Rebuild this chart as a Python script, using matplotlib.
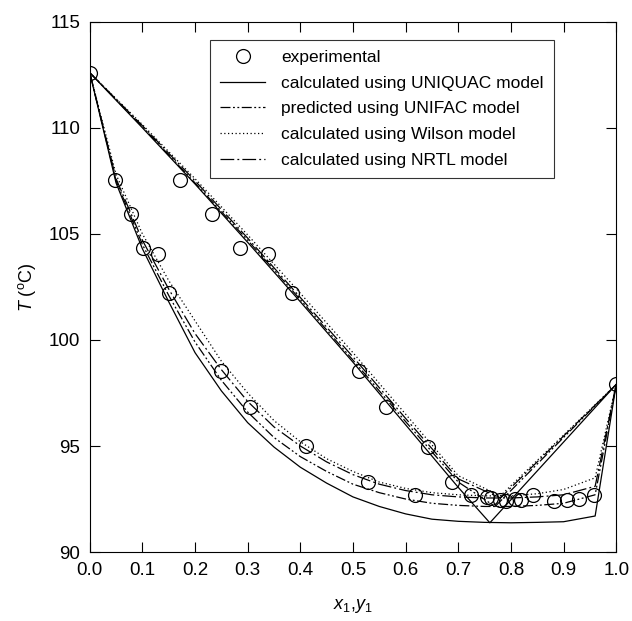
import matplotlib
matplotlib.use("Agg")
import matplotlib.pyplot as plt

plt.rcParams['font.family'] = ['Liberation Sans', 'DejaVu Sans']
plt.rcParams['mathtext.fontset'] = 'custom'
plt.rcParams['mathtext.rm'] = 'Liberation Sans'
plt.rcParams['mathtext.it'] = 'Liberation Sans:italic'

# experimental points (x1 and y1 together)
exp_x = [0.0, 0.048, 0.171, 0.079, 0.232, 0.102, 0.130, 0.286, 0.339, 0.151, 0.384,
         0.250, 0.511, 0.305, 0.562, 0.410, 0.643, 0.528, 0.688, 0.617, 0.724,
         0.754, 0.762, 0.779, 0.791, 0.808, 0.820, 0.842, 0.882, 0.906, 0.930, 0.958, 1.0]
exp_T = [112.6, 107.55, 107.55, 105.96, 105.93, 104.32, 104.04, 104.34, 104.04, 102.23, 102.23,
         98.52, 98.52, 96.84, 96.85, 94.98, 94.94, 93.3, 93.3, 92.71, 92.71,
         92.58, 92.55, 92.46, 92.42, 92.5, 92.46, 92.71, 92.42, 92.46, 92.5, 92.71, 97.94]

# bubble curves, T vs x1
bub_x = [0.0, 0.05, 0.1, 0.15, 0.2, 0.25, 0.3, 0.35, 0.4, 0.45, 0.5, 0.55, 0.6,
         0.65, 0.7, 0.75, 0.8, 0.85, 0.9, 0.96, 1.0]
uniquac_bub = [112.6, 107.4, 104.3, 101.8, 99.4, 97.6, 96.1, 94.95, 94.0, 93.25, 92.6, 92.15, 91.8,
               91.55, 91.45, 91.4, 91.38, 91.4, 91.43, 91.7, 97.9]
unifac_bub = [112.6, 107.5, 104.5, 102.1, 99.9, 98.1, 96.6, 95.4, 94.5, 93.8, 93.2, 92.8, 92.5,
              92.3, 92.2, 92.15, 92.15, 92.2, 92.3, 92.7, 97.9]
wilson_bub = [112.6, 107.8, 105.0, 102.8, 100.9, 99.0, 97.5, 96.2, 95.2, 94.4, 93.8, 93.3, 93.0,
              92.8, 92.7, 92.65, 92.65, 92.75, 92.95, 93.5, 97.9]
nrtl_bub = [112.6, 107.6, 104.7, 102.4, 100.3, 98.6, 97.1, 95.9, 95.0, 94.25, 93.65, 93.2, 92.9,
            92.7, 92.6, 92.55, 92.55, 92.6, 92.7, 93.1, 97.9]

# dew curves, T vs y1
uniquac_dew_y = [0.0, 0.1, 0.2, 0.3, 0.4, 0.5, 0.6, 0.7, 0.76, 1.0]
uniquac_dew = [112.6, 110.0, 107.35, 104.6, 101.8, 98.95, 96.0, 93.05, 91.38, 97.9]
unifac_dew_y = [0.0, 0.1, 0.2, 0.3, 0.4, 0.5, 0.6, 0.7, 0.77, 1.0]
unifac_dew = [112.6, 110.05, 107.4, 104.7, 101.9, 99.05, 96.15, 93.3, 92.15, 97.9]
wilson_dew_y = [0.0, 0.1, 0.2, 0.3, 0.4, 0.5, 0.6, 0.7, 0.78, 1.0]
wilson_dew = [112.6, 110.15, 107.6, 104.95, 102.2, 99.4, 96.5, 93.6, 92.65, 97.9]
nrtl_dew_y = [0.0, 0.1, 0.2, 0.3, 0.4, 0.5, 0.6, 0.7, 0.78, 1.0]
nrtl_dew = [112.6, 110.1, 107.5, 104.8, 102.0, 99.2, 96.3, 93.45, 92.55, 97.9]

fig = plt.figure(figsize=(6.32, 6.21), dpi=100)
ax = fig.add_axes([0.142, 0.111, 0.833, 0.854])

lw = 0.9
ls_unifac = (0, (8, 2, 1.5, 2, 1.5, 2))
ls_wilson = (0, (1, 2))
ls_nrtl = (0, (11, 2.5, 1.5, 2.5))

ax.plot(exp_x, exp_T, 'o', ms=10, mfc='none', mec='black', mew=0.9, label='experimental', zorder=5)
ax.plot(bub_x, uniquac_bub, color='black', lw=lw, label='calculated using UNIQUAC model')
ax.plot(uniquac_dew_y, uniquac_dew, color='black', lw=lw)
ax.plot(bub_x, unifac_bub, color='black', lw=lw, ls=ls_unifac, label='predicted using UNIFAC model')
ax.plot(unifac_dew_y, unifac_dew, color='black', lw=lw, ls=ls_unifac)
ax.plot(bub_x, wilson_bub, color='black', lw=lw, ls=ls_wilson, label='calculated using Wilson model')
ax.plot(wilson_dew_y, wilson_dew, color='black', lw=lw, ls=ls_wilson)
ax.plot(bub_x, nrtl_bub, color='black', lw=lw, ls=ls_nrtl, label='calculated using NRTL model')
ax.plot(nrtl_dew_y, nrtl_dew, color='black', lw=lw, ls=ls_nrtl)

ax.set_xlim(0, 1)
ax.set_ylim(90, 115)
ax.set_xticks([i / 10 for i in range(11)])
ax.set_xticklabels([f"{i / 10:.1f}" for i in range(11)])
ax.set_yticks([90, 95, 100, 105, 110, 115])
ax.tick_params(direction='in', top=True, right=True, length=7.5, width=0.8, labelsize=13.5, pad=7)
for s in ax.spines.values():
    s.set_linewidth(0.8)

ax.set_xlabel(r'$x_1$,$y_1$', fontsize=13, labelpad=13)
ax.set_ylabel(r'$T$ ($^{\rm o}$C)', fontsize=13, labelpad=8)

leg = ax.legend(loc='upper left', bbox_to_anchor=(0.228, 0.966), fontsize=12.5, frameon=True,
                fancybox=False, edgecolor='black', handlelength=2.6, handletextpad=0.9,
                labelspacing=0.6, borderpad=0.6, borderaxespad=0)
leg.get_frame().set_linewidth(0.8)

fig.savefig('out.png', dpi=100)
